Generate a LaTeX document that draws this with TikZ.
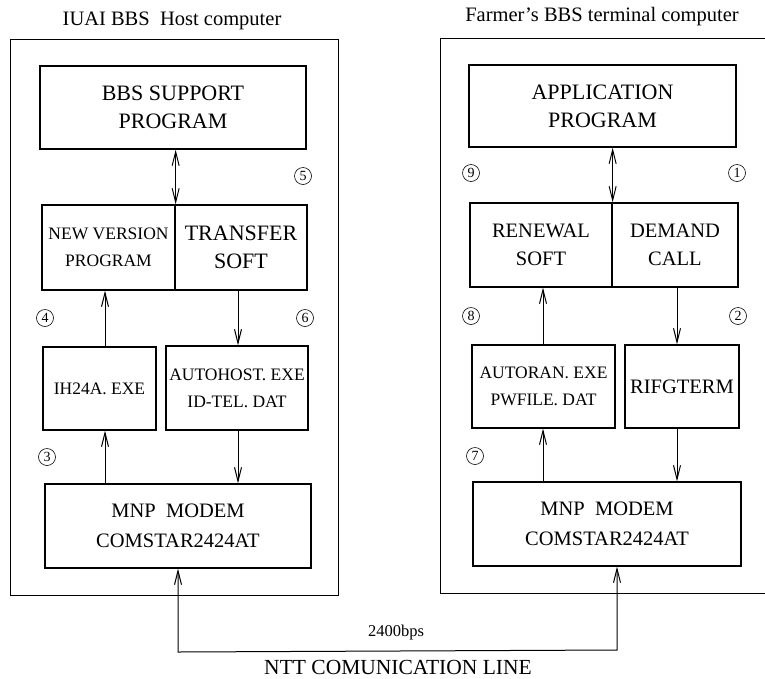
\documentclass[tikz,border=0pt]{standalone}
\usepackage{fontspec}
\setmainfont{Liberation Serif}
\usetikzlibrary{arrows.meta}
\tikzset{
  box/.style={draw, line width=1.3pt, align=center, inner sep=0pt, font=\fontsize{22}{28}\selectfont},
  sbox/.style={box, font=\fontsize{17.5}{27}\selectfont},
  outer/.style={draw, line width=0.9pt},
  conn/.style={line width=1pt, -{Straight Barb[length=14pt,width=7pt,line width=1pt]}},
  dconn/.style={line width=1pt, {Straight Barb[length=14pt,width=7pt,line width=1pt]}-{Straight Barb[length=14pt,width=7pt,line width=1pt]}},
  num/.style={circle, draw, line width=0.6pt, minimum size=17pt, inner sep=0pt, font=\fontsize{14}{14}\selectfont},
  title/.style={font=\fontsize{20.5}{24}\selectfont}
}
\begin{document}
\begin{tikzpicture}[x=1pt,y=-1pt]
\useasboundingbox (0,0) rectangle (765,678);
% titles
\node[title] (t1) at (172,21) {IUAI BBS\ \ Host computer};
\node[title] (t2) at (602,17) {Farmer's BBS terminal computer};
% outer frames
\draw[outer] (10,39) rectangle (338,595);
\draw[outer] (765,38) -- (440,38) -- (440,593) -- (765,593);
% left side boxes
\node[box, minimum width=266pt, minimum height=83pt] (bbs) at (173,107.5) {BBS SUPPORT\\PROGRAM};
\node[sbox, minimum width=133pt, minimum height=85pt] (nv) at (108.5,247.5) {NEW VERSION\\PROGRAM};
\node[box, minimum width=132pt, minimum height=85pt] (ts) at (241,247.5) {TRANSFER\\SOFT};
\node[sbox, minimum width=113pt, minimum height=83pt] (ih) at (99.5,388.5) {IH24A. EXE};
\node[sbox, minimum width=142pt, minimum height=84pt] (ah) at (237,388) {AUTOHOST. EXE\\ID-TEL. DAT};
\node[box, minimum width=266pt, minimum height=84pt, font=\fontsize{20.5}{30}\selectfont] (ml) at (178,526) {MNP\ \ MODEM\\COMSTAR2424AT};
% right side boxes
\node[box, minimum width=267pt, minimum height=82pt] (app) at (602.5,106) {APPLICATION\\PROGRAM};
\node[box, minimum width=142pt, minimum height=84pt, font=\fontsize{20.5}{28}\selectfont] (rn) at (541,245) {RENEWAL\\SOFT};
\node[box, minimum width=126pt, minimum height=84pt, font=\fontsize{20.5}{28}\selectfont] (dc) at (675,245) {DEMAND\\CALL};
\node[sbox, minimum width=143pt, minimum height=83pt] (ar) at (543.5,386.5) {AUTORAN. EXE\\PWFILE. DAT};
\node[box, minimum width=114pt, minimum height=83pt, font=\fontsize{20.5}{28}\selectfont] (rf) at (682,386.5) {RIFGTERM};
\node[box, minimum width=268pt, minimum height=84pt, font=\fontsize{20.5}{30}\selectfont] (mr) at (607,524) {MNP\ \ MODEM\\COMSTAR2424AT};
% coordinates for connectors
\coordinate (la) at (105,0);
\coordinate (lb) at (238,0);
\coordinate (ra) at (543,0);
\coordinate (rb) at (677,0);
\coordinate (cl) at (178,652);
\coordinate (cr) at (617,650);
% left connectors
\draw[dconn] (bbs.south -| nv.north east) -- (nv.north east);
\draw[conn] (ih.north -| la) -- (nv.south -| la);
\draw[conn] (ts.south -| lb) -- (ah.north -| lb);
\draw[conn] (ml.north -| la) -- (ih.south -| la);
\draw[conn] (ah.south -| lb) -- (ml.north -| lb);
% right connectors
\draw[dconn] (app.south -| rn.north east) -- (rn.north east);
\draw[conn] (ar.north -| ra) -- (rn.south -| ra);
\draw[conn] (dc.south -| rb) -- (rf.north -| rb);
\draw[conn] (mr.north -| ra) -- (ar.south -| ra);
\draw[conn] (rf.south -| rb) -- (mr.north -| rb);
% communication line
\draw[dconn] (ml.south -| cl) -- (cl) -- (cr) -- (mr.south -| cr);
\node[font=\fontsize{16.5}{18}\selectfont] (bps) at (396,633) {2400bps};
\node[font=\fontsize{21.5}{24}\selectfont] (ntt) at (398,667) {NTT COMUNICATION LINE};
% step numbers
\node[num] (n5) at (303,176) {5};
\node[num] (n4) at (45,318) {4};
\node[num] (n6) at (305,318) {6};
\node[num] (n3) at (47,457) {3};
\node[num] (n9) at (471,173) {9};
\node[num] (n1) at (737,173) {1};
\node[num] (n8) at (471,316) {8};
\node[num] (n2) at (738,316) {2};
\node[num] (n7) at (475,456) {7};
\end{tikzpicture}
\end{document}
